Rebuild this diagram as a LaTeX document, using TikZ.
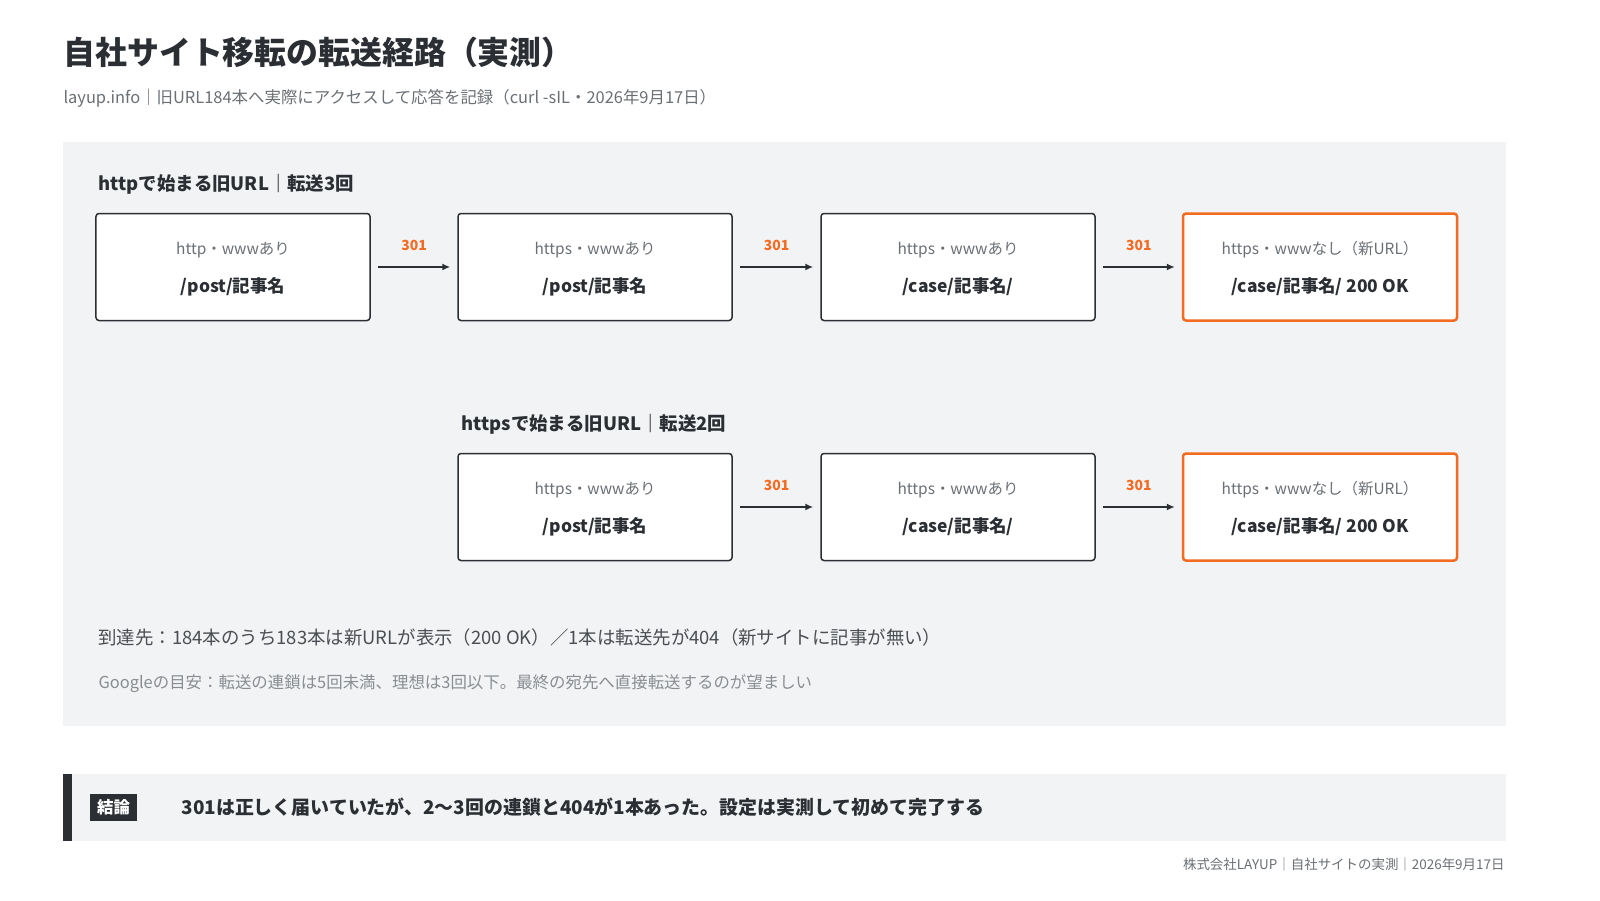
\documentclass[tikz,border=0pt]{standalone}
\usepackage{fontspec}
\setmainfont{Noto Sans CJK JP}
\usetikzlibrary{arrows.meta}
\definecolor{ink}{HTML}{2B2F33}
\definecolor{mid}{HTML}{6B7075}
\definecolor{panel}{HTML}{F2F3F5}
\definecolor{org}{HTML}{F26B21}
\tikzset{
 box/.style={draw=ink,line width=1.5bp,rounded corners=3bp,fill=white,minimum width=274bp,minimum height=107bp},
 obox/.style={box,draw=org,line width=2.5bp},
 l1/.style={font=\fontsize{15.5}{18}\selectfont,text=mid},
 l2/.style={font=\fontsize{17.5}{20}\selectfont\bfseries,text=ink},
 arr/.style={draw=ink,line width=1.5bp,-{Latex[length=8bp,width=7bp]}},
 num/.style={font=\fontsize{14}{16}\selectfont\bfseries,text=org},
 sec/.style={font=\fontsize{18.5}{22}\selectfont\bfseries,text=ink,anchor=west},
}
\begin{document}
\begin{tikzpicture}[x=1bp,y=-1bp]
\useasboundingbox[fill=white] (0,0) rectangle (1600,900);
\node[anchor=west,font=\fontsize{32}{38}\selectfont\bfseries,text=ink] (title) at (60,52) {自社サイト移転の転送経路（実測）};
\node[anchor=west,font=\fontsize{16.5}{19}\selectfont,text=mid] (sub) at (60,98) {layup.info｜旧URL184本へ実際にアクセスして応答を記録（curl -sIL・2026年9月17日）};
\fill[panel] (63,142) rectangle (1506,726);
\node[sec] (s1) at (95,184) {httpで始まる旧URL｜転送3回};
% row 1
\node[box] (a1) at (233,267) {};
\node[box] (a2) at (595,267) {};
\node[box] (a3) at (958,267) {};
\node[obox] (a4) at (1320,267) {};
\node[l1] at (233,250) {http・wwwあり};
\node[l2] at (233,287) {/post/記事名};
\node[l1] at (595,250) {https・wwwあり};
\node[l2] at (595,287) {/post/記事名};
\node[l1] at (958,250) {https・wwwあり};
\node[l2] at (958,287) {/case/記事名/};
\node[l1] at (1320,250) {https・wwwなし（新URL）};
\node[l2] at (1320,287) {/case/記事名/ 200 OK};
\draw[arr] ([xshift=7bp]a1.east) -- node[num,above=12bp]{301} ([xshift=-7bp]a2.west);
\draw[arr] ([xshift=7bp]a2.east) -- node[num,above=12bp]{301} ([xshift=-7bp]a3.west);
\draw[arr] ([xshift=7bp]a3.east) -- node[num,above=12bp]{301} ([xshift=-7bp]a4.west);
% row 2
\node[sec] (s2) at (458,424) {httpsで始まる旧URL｜転送2回};
\node[box] (b1) at (595,507) {};
\node[box] (b2) at (958,507) {};
\node[obox] (b3) at (1320,507) {};
\node[l1] at (595,490) {https・wwwあり};
\node[l2] at (595,527) {/post/記事名};
\node[l1] at (958,490) {https・wwwあり};
\node[l2] at (958,527) {/case/記事名/};
\node[l1] at (1320,490) {https・wwwなし（新URL）};
\node[l2] at (1320,527) {/case/記事名/ 200 OK};
\draw[arr] ([xshift=7bp]b1.east) -- node[num,above=12bp]{301} ([xshift=-7bp]b2.west);
\draw[arr] ([xshift=7bp]b2.east) -- node[num,above=12bp]{301} ([xshift=-7bp]b3.west);
\node[anchor=west,font=\fontsize{18.5}{21}\selectfont,text=ink!85] (n1) at (95,637) {到達先：184本のうち183本は新URLが表示（200 OK）／1本は転送先が404（新サイトに記事が無い）};
\node[anchor=west,font=\fontsize{16.5}{19}\selectfont,text=mid!80] (n2) at (95,684) {Googleの目安：転送の連鎖は5回未満、理想は3回以下。最終の宛先へ直接転送するのが望ましい};
% conclusion
\fill[panel] (63,774) rectangle (1506,841);
\fill[ink] (63,774) rectangle (72,841);
\node[fill=ink,text=white,font=\fontsize{16.5}{19}\selectfont\bfseries,minimum width=47bp,minimum height=27bp,inner sep=0pt] (tag) at (113.5,807.5) {結論};
\node[anchor=west,font=\fontsize{19}{22}\selectfont\bfseries,text=ink] (c) at (178,807) {301は正しく届いていたが、2〜3回の連鎖と404が1本あった。設定は実測して初めて完了する};
\node[anchor=east,font=\fontsize{13.5}{16}\selectfont,text=mid] (f) at (1508,864) {株式会社LAYUP｜自社サイトの実測｜2026年9月17日};
\end{tikzpicture}
\end{document}
